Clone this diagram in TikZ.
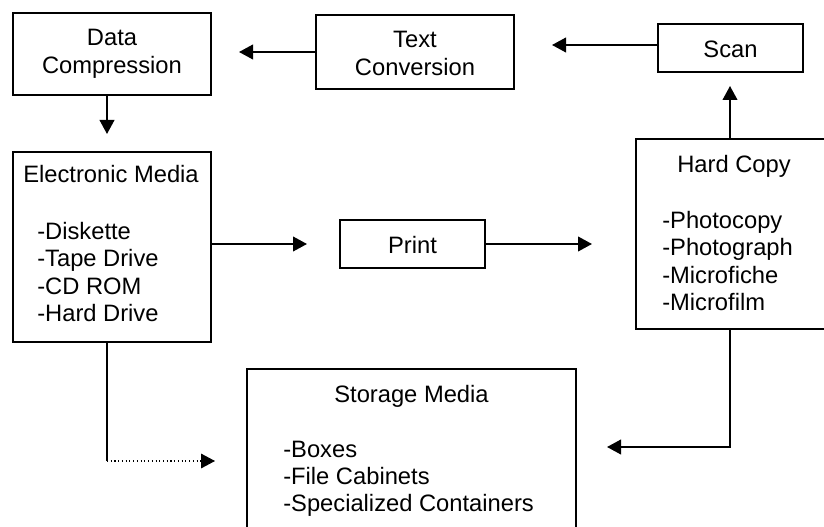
\documentclass[tikz,border=0pt]{standalone}
\usepackage{fontspec}
\setmainfont{Liberation Sans}
\usetikzlibrary{arrows.meta}

\tikzset{
  box/.style 2 args={draw, line width=1.4pt, minimum width=#1*0.75pt, minimum height=#2*0.75pt, inner sep=0pt},
  txt/.style={inner sep=0pt, anchor=base, font=\fontsize{17.8}{20.25}\selectfont},
  item/.style={txt, anchor=base west},
  link/.style={line width=1.4pt},
  arr/.style={link, -{Triangle[length=10.5pt, width=11pt]}}
}

\begin{document}
\begin{tikzpicture}[x=0.75pt,y=-0.75pt]
\useasboundingbox (0,0) rectangle (824,527);
\clip (0,0) rectangle (824,527);

% Boxes
\node[box={198}{82}] (dc) at (112,54) {};
\node[box={198}{74}] (tc) at (415,52) {};
\node[box={145}{48}] (scan) at (730.5,48) {};
\node[box={198}{190}] (em) at (112,247) {};
\node[box={145}{48}] (print) at (412.5,244) {};
\node[box={194}{190}] (hc) at (733,234) {};
\node[box={329}{171}] (sm) at (411.5,454.5) {};

% Text Nodes
\node[txt] (dc-1) at (112,45.5) {Data};
\node[txt] (dc-2) at (112,74) {Compression};
\node[txt] (tc-1) at (415,47.5) {Text};
\node[txt] (tc-2) at (415,75.5) {Conversion};
\node[txt] (scan-t) at (730.5,57.5) {Scan};
\node[txt] (print-t) at (412.5,253) {Print};
\node[txt] (em-t) at (111,183) {Electronic Media};
\foreach \t [count=\i from 0] in {-Diskette,-Tape Drive,-CD ROM,-Hard Drive}
  \node[item] (em-\i) at (37,240+27*\i) {\t};
\node[txt] (hc-t) at (734,172.5) {Hard Copy};
\foreach \t [count=\i from 0] in {-Photocopy,-Photograph,-Microfiche,-Microfilm}
  \node[item] (hc-\i) at (662,229+27*\i) {\t};
\node[txt] (sm-t) at (411.5,402) {Storage Media};
\foreach \t [count=\i from 0] in {-Boxes,-File Cabinets,-Specialized Containers}
  \node[item] (sm-\i) at (283,457+27*\i) {\t};

% Connectors
\coordinate (tc-tip) at (239,52);
\coordinate (scan-tip) at (552,45);
\coordinate (dc-tip) at (107,134);
\coordinate (em-tip) at (307,244);
\coordinate (print-tip) at (592,244);
\coordinate (hc-tip) at (730,86);
\coordinate (em-bend) at (107,461);
\coordinate (sm-tip1) at (215,461);
\coordinate (hc-bend) at (730,447);
\coordinate (sm-tip2) at (607,447);

\draw[arr] (tc.west) -- (tc-tip);
\draw[arr] (scan.west |- scan-tip) -- (scan-tip);
\draw[arr] (dc.south -| dc-tip) -- (dc-tip);
\draw[arr] (em.east |- em-tip) -- (em-tip);
\draw[arr] (print.east) -- (print-tip);
\draw[arr] (hc.north -| hc-tip) -- (hc-tip);
\draw[link] (em.south -| em-bend) -- (em-bend);
\draw[arr, line width=0.8pt, dotted] (em-bend) -- (sm-tip1);
\draw[arr] (hc.south -| hc-bend) -- (hc-bend) -- (sm-tip2);

\end{tikzpicture}
\end{document}
